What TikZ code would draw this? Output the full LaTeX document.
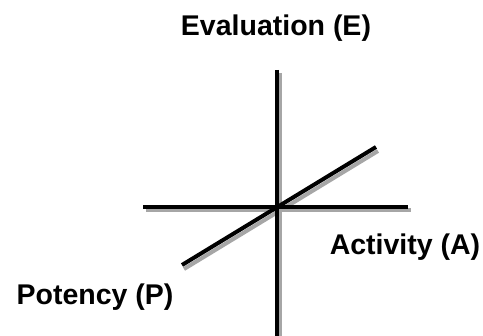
\documentclass[tikz,border=0pt]{standalone}
\usepackage{fontspec}
\setmainfont{Liberation Sans}
\begin{document}
\begin{tikzpicture}[x=1pt,y=-1pt,
  axis/.style={line width=4pt,black},
  shadow/.style={line width=4pt,gray!70},
  lbl/.style={font=\bfseries\fontsize{28.5}{31}\selectfont,inner sep=0pt,anchor=base}]
\useasboundingbox (0,0) rectangle (483,336);
\coordinate (vt) at (277,70);
\coordinate (vb) at (277,338);
\coordinate (hl) at (143,207);
\coordinate (hr) at (408,207);
\coordinate (dl) at (182,265);
\coordinate (dr) at (376,147);
% shadows
\draw[shadow] ([shift={(3,3)}]vt) -- ([shift={(3,3)}]vb);
\draw[shadow] ([shift={(3,3)}]hl) -- ([shift={(3,3)}]hr);
\draw[shadow] ([shift={(2,4)}]dl) -- ([shift={(2,4)}]dr);
% axes
\draw[axis] (vt) -- (vb);
\draw[axis] (hl) -- (hr);
\draw[axis] (dl) -- (dr);
\node[lbl] (E) at (276,36) {Evaluation (E)};
\node[lbl] (A) at (405,255) {Activity (A)};
\node[lbl] (P) at (95,305) {Potency (P)};
\end{tikzpicture}
\end{document}
